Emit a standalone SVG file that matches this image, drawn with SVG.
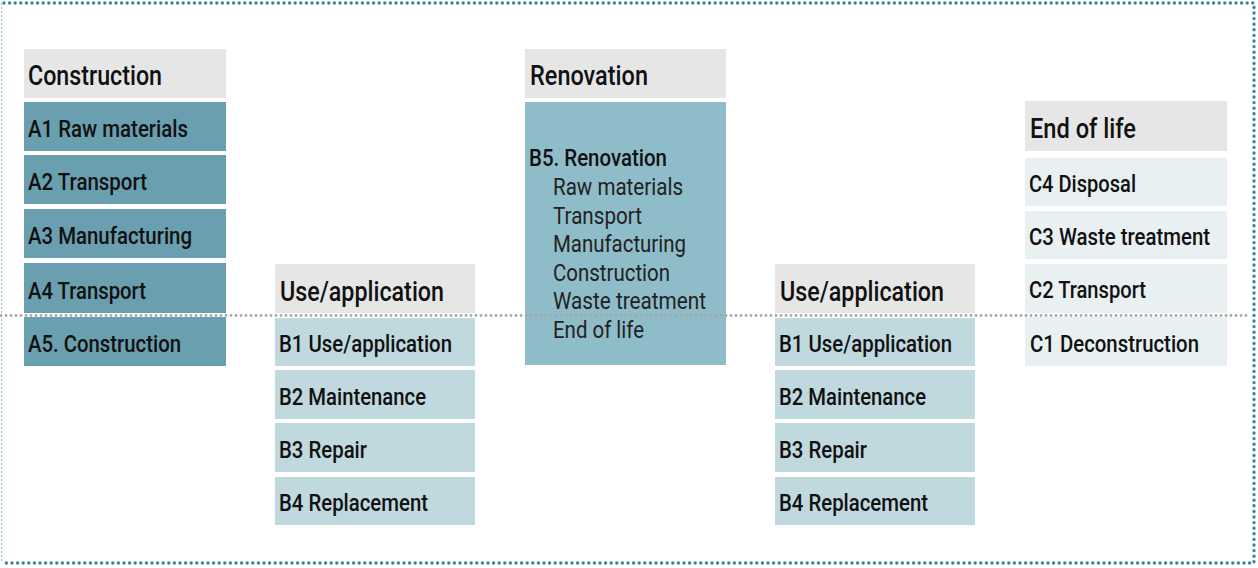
<svg xmlns="http://www.w3.org/2000/svg" width="1258" height="568" viewBox="0 0 1258 568">
<style>
.hd{fill:#e6e6e6}
.a{fill:#6a9fb0}
.b{fill:#c0d9df}
.c{fill:#e8f0f2}
.r{fill:#8fbcc9}
text{font-family:Roboto,"Liberation Sans",sans-serif;fill:#111}
.ht{font-size:28px;font-weight:500}
.it{font-size:23.5px;font-weight:500}
.sub{font-size:23px;font-weight:400;fill:#222}
.frame{fill:none;stroke:#3a8499;stroke-width:3.4;stroke-linecap:round;stroke-dasharray:0 5.6}
.frameL{fill:none;stroke:#8cc0cf;stroke-width:1;stroke-dasharray:2 2}
.mid{fill:none;stroke:#a6a6a6;stroke-width:2.8;stroke-linecap:round;stroke-dasharray:0 5}
</style>
<rect width="1258" height="568" fill="#fff"/>
<g id="frame">
<path class="frame" d="M4 3 H1254 V563 H4"/>
<path class="frameL" d="M1.5 3 V563"/>
</g>
<g id="construction">
<rect class="hd" x="24" y="49" width="202" height="49"/>
<text class="ht" x="28" y="85" textLength="134" lengthAdjust="spacingAndGlyphs">Construction</text>
<rect class="a" x="24" y="102" width="202" height="49"/>
<text class="it" x="28" y="137" textLength="160" lengthAdjust="spacingAndGlyphs">A1 Raw materials</text>
<rect class="a" x="24" y="155" width="202" height="49"/>
<text class="it" x="28" y="190" textLength="119" lengthAdjust="spacingAndGlyphs">A2 Transport</text>
<rect class="a" x="24" y="209" width="202" height="49"/>
<text class="it" x="28" y="244" textLength="164" lengthAdjust="spacingAndGlyphs">A3 Manufacturing</text>
<rect class="a" x="24" y="263" width="202" height="50"/>
<text class="it" x="28" y="299" textLength="118" lengthAdjust="spacingAndGlyphs">A4 Transport</text>
<rect class="a" x="24" y="317" width="202" height="49"/>
<text class="it" x="28" y="352" textLength="153" lengthAdjust="spacingAndGlyphs">A5. Construction</text>
</g>
<g id="use1">
<rect class="hd" x="275" y="264" width="200" height="49"/>
<text class="ht" x="280" y="301" textLength="164" lengthAdjust="spacingAndGlyphs">Use/application</text>
<rect class="b" x="275" y="318" width="200" height="48"/>
<text class="it" x="279" y="352" textLength="173" lengthAdjust="spacingAndGlyphs">B1 Use/application</text>
<rect class="b" x="275" y="370" width="200" height="49"/>
<text class="it" x="279" y="405" textLength="147" lengthAdjust="spacingAndGlyphs">B2 Maintenance</text>
<rect class="b" x="275" y="423" width="200" height="49"/>
<text class="it" x="279" y="458" textLength="88" lengthAdjust="spacingAndGlyphs">B3 Repair</text>
<rect class="b" x="275" y="477" width="200" height="48"/>
<text class="it" x="279" y="511" textLength="149" lengthAdjust="spacingAndGlyphs">B4 Replacement</text>
</g>
<g id="renovation">
<rect class="hd" x="525" y="49" width="201" height="49"/>
<text class="ht" x="530" y="85" textLength="118" lengthAdjust="spacingAndGlyphs">Renovation</text>
<rect class="r" x="525" y="102" width="201" height="263"/>
<text class="it" x="529" y="166" textLength="138" lengthAdjust="spacingAndGlyphs">B5. Renovation</text>
<text class="sub" x="553" y="195" textLength="130" lengthAdjust="spacingAndGlyphs">Raw materials</text>
<text class="sub" x="553" y="224" textLength="89" lengthAdjust="spacingAndGlyphs">Transport</text>
<text class="sub" x="553" y="252" textLength="133" lengthAdjust="spacingAndGlyphs">Manufacturing</text>
<text class="sub" x="553" y="281" textLength="117" lengthAdjust="spacingAndGlyphs">Construction</text>
<text class="sub" x="553" y="309" textLength="153" lengthAdjust="spacingAndGlyphs">Waste treatment</text>
<text class="sub" x="553" y="338" textLength="91" lengthAdjust="spacingAndGlyphs">End of life</text>
</g>
<g id="use2">
<rect class="hd" x="775" y="264" width="200" height="49"/>
<text class="ht" x="780" y="301" textLength="164" lengthAdjust="spacingAndGlyphs">Use/application</text>
<rect class="b" x="775" y="318" width="200" height="48"/>
<text class="it" x="779" y="352" textLength="173" lengthAdjust="spacingAndGlyphs">B1 Use/application</text>
<rect class="b" x="775" y="370" width="200" height="49"/>
<text class="it" x="779" y="405" textLength="147" lengthAdjust="spacingAndGlyphs">B2 Maintenance</text>
<rect class="b" x="775" y="423" width="200" height="49"/>
<text class="it" x="779" y="458" textLength="88" lengthAdjust="spacingAndGlyphs">B3 Repair</text>
<rect class="b" x="775" y="477" width="200" height="48"/>
<text class="it" x="779" y="511" textLength="149" lengthAdjust="spacingAndGlyphs">B4 Replacement</text>
</g>
<g id="endoflife">
<rect class="hd" x="1025" y="101" width="202" height="50"/>
<text class="ht" x="1030" y="138" textLength="106" lengthAdjust="spacingAndGlyphs">End of life</text>
<rect class="c" x="1025" y="158" width="202" height="48"/>
<text class="it" x="1029" y="192" textLength="107" lengthAdjust="spacingAndGlyphs">C4 Disposal</text>
<rect class="c" x="1025" y="211" width="202" height="48"/>
<text class="it" x="1029" y="245" textLength="181" lengthAdjust="spacingAndGlyphs">C3 Waste treatment</text>
<rect class="c" x="1025" y="264" width="202" height="49"/>
<text class="it" x="1029" y="298" textLength="117" lengthAdjust="spacingAndGlyphs">C2 Transport</text>
<rect class="c" x="1025" y="317" width="202" height="49"/>
<text class="it" x="1030" y="352" textLength="169" lengthAdjust="spacingAndGlyphs">C1 Deconstruction</text>
</g>
<g id="connectors">
<path class="mid" d="M1 315.5 H1250"/>
</g>
</svg>
